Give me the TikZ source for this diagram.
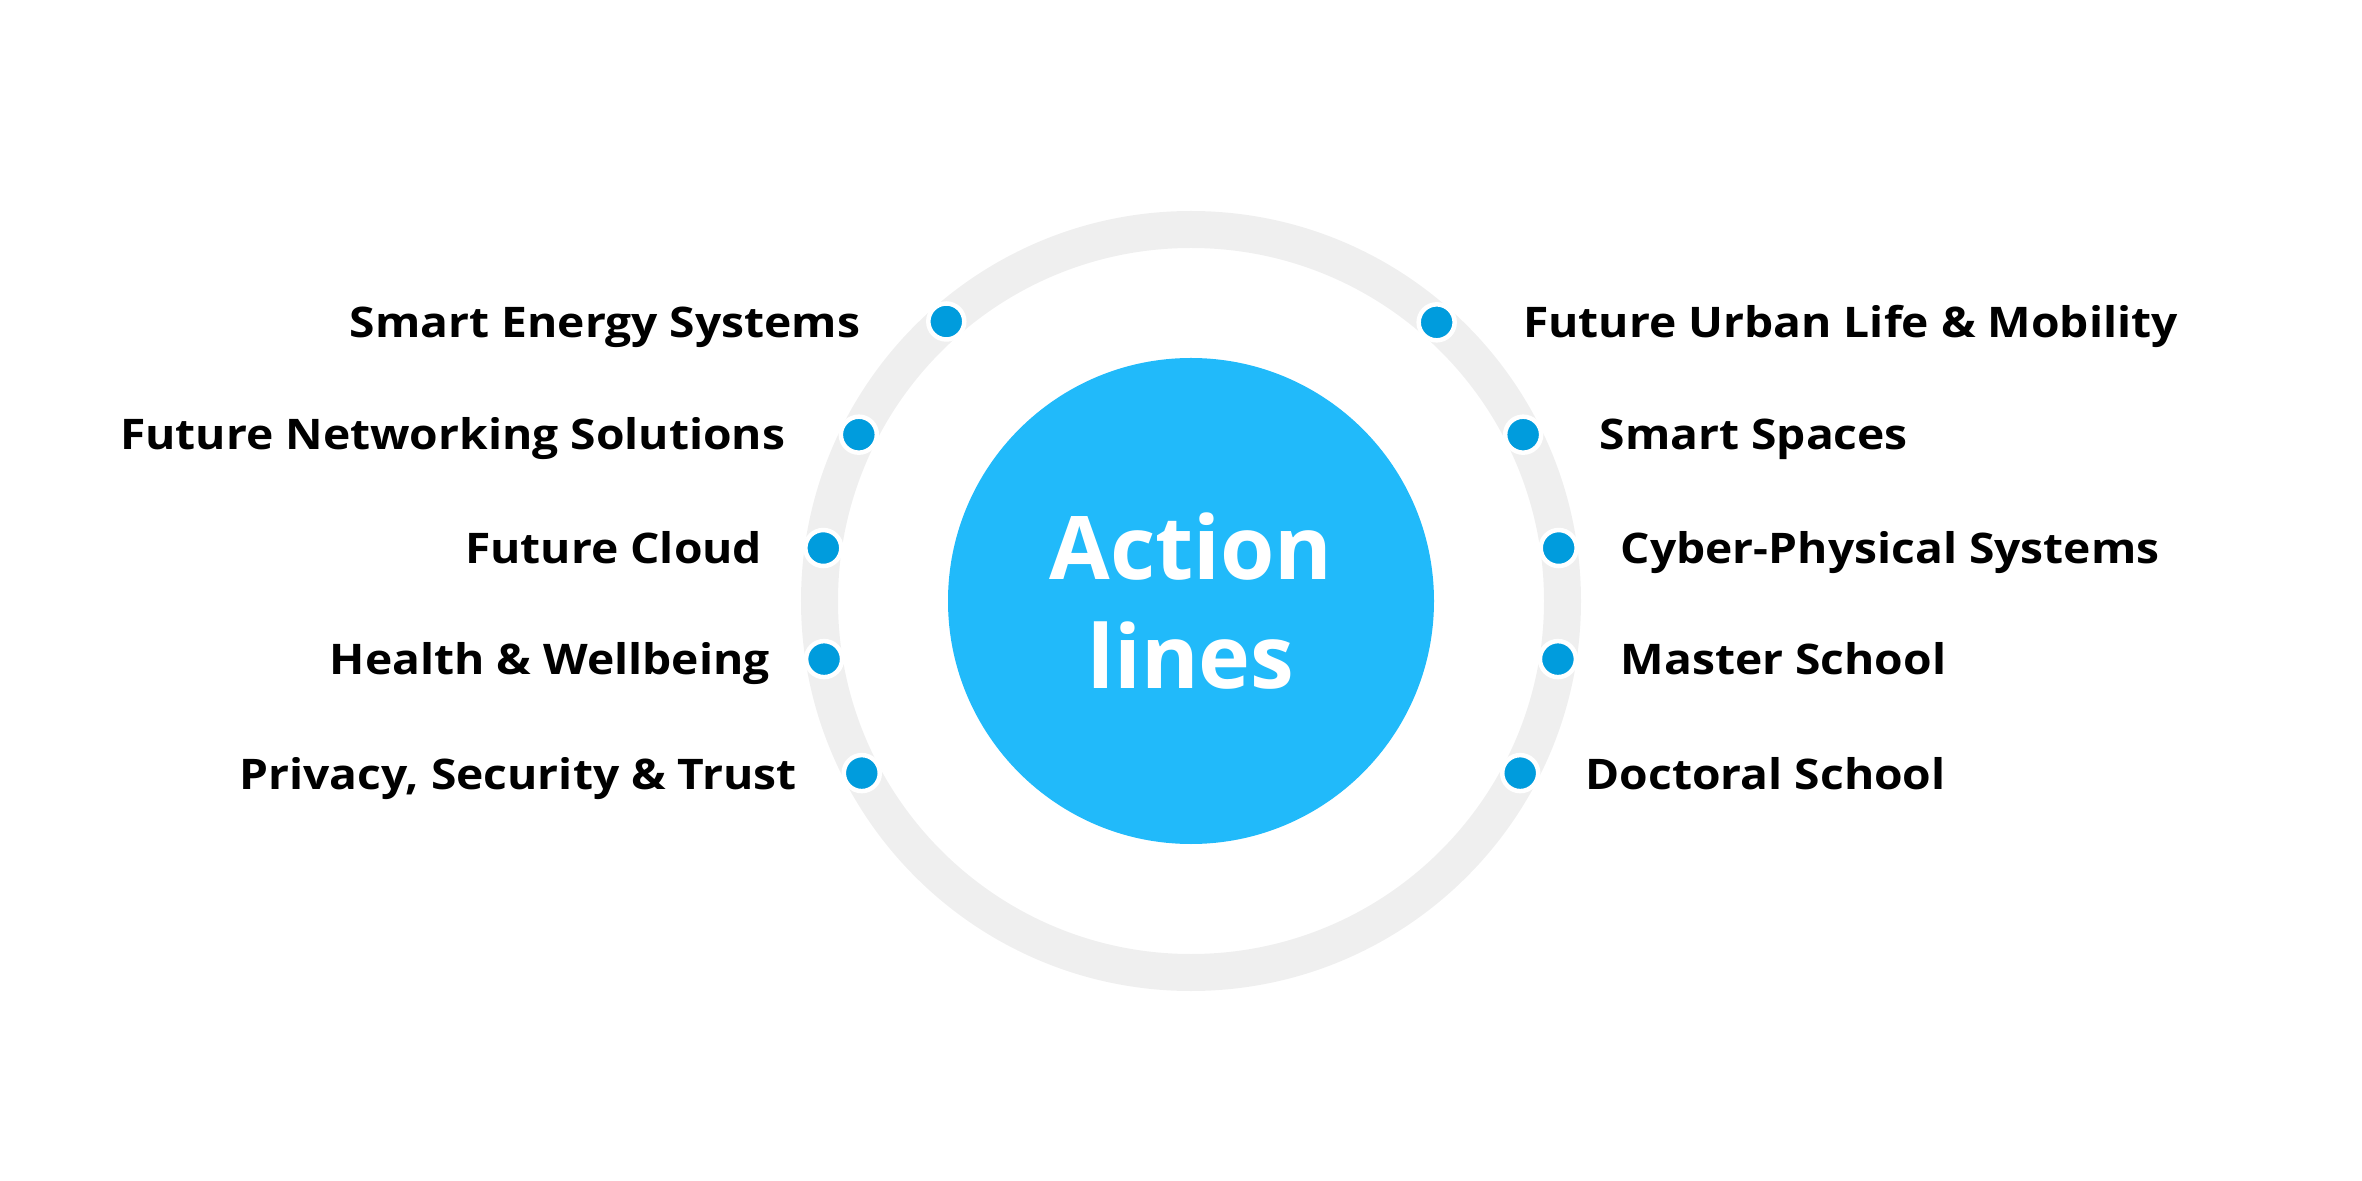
\documentclass[tikz,border=0pt]{standalone}
\usepackage{fontspec}
\setmainfont{Open Sans}
\newfontfamily\lblfont[FakeStretch=1.095]{Open Sans}
\definecolor{ringgray}{HTML}{EFEFEF}
\definecolor{corecyan}{HTML}{21BAFA}
\definecolor{dotblue}{HTML}{009CDD}
\begin{document}
\begin{tikzpicture}[dot/.style={circle,fill=dotblue,draw=white,line width=0.045cm,minimum size=0.36cm,inner sep=0pt},
	lbl/.style={font=\lblfont\fontsize{12}{14}\selectfont\bfseries,inner sep=0pt}]
	\useasboundingbox (-11.91,-5.80) rectangle (11.71,6.01);
	% ring and core
	\draw[ringgray,line width=0.37cm] (0,0) circle (3.715);
	\node[circle,fill=corecyan,minimum size=4.86cm,inner sep=0pt,text=white,align=center,font=\fontsize{25}{31}\selectfont\bfseries] (core) at (0,0) {Action\\lines};
	% dots on the left
	\node[dot] (l1) at (131.2:3.715) {};
	\node[dot] (l2) at (153.4:3.715) {};
	\node[dot] (l3) at (171.8:3.715) {};
	\node[dot] (l4) at (189.0:3.715) {};
	\node[dot] (l5) at (207.6:3.715) {};
	% dots on the right
	\node[dot] (r1) at (48.6:3.715) {};
	\node[dot] (r2) at (26.6:3.715) {};
	\node[dot] (r3) at (8.2:3.715) {};
	\node[dot] (r4) at (-9.0:3.715) {};
	\node[dot] (r5) at (-27.6:3.715) {};
	% left labels
	\node[lbl,anchor=base east] (t1) at (-3.30,2.635) {Smart Energy Systems};
	\node[lbl,anchor=base east] (t2) at (-4.05,1.51) {Future Networking Solutions};
	\node[lbl,anchor=base east] (t3) at (-4.28,0.375) {Future Cloud};
	\node[lbl,anchor=base east] (t4) at (-4.205,-0.735) {Health \& Wellbeing};
	\node[lbl,anchor=base east] (t5) at (-3.935,-1.88) {Privacy, Security \& Trust};
	% right labels
	\node[lbl,anchor=base west] (s1) at (3.314,2.635) {Future Urban Life \& Mobility};
	\node[lbl,anchor=base west] (s2) at (4.08,1.51) {Smart Spaces};
	\node[lbl,anchor=base west] (s3) at (4.29,0.375) {Cyber-Physical Systems};
	\node[lbl,anchor=base west] (s4) at (4.29,-0.735) {Master School};
	\node[lbl,anchor=base west] (s5) at (3.94,-1.88) {Doctoral School};
\end{tikzpicture}
\end{document}
